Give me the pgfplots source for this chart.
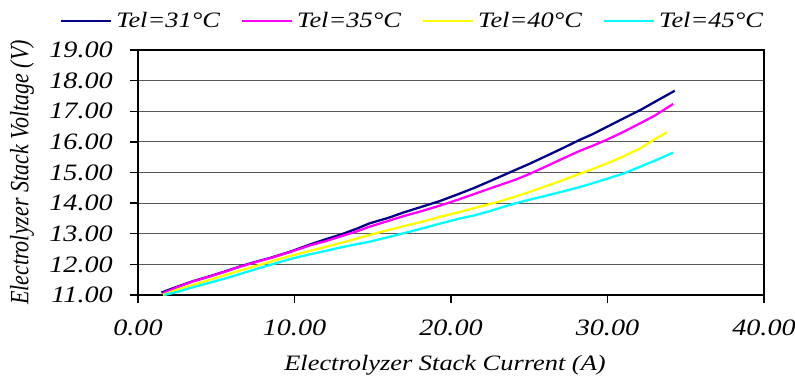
\documentclass[border=0pt]{standalone}
\usepackage{fontspec}
\setmainfont{Liberation Serif}[FakeStretch=1.2]
\newfontfamily\ylabfont{Liberation Serif}
\usepackage{pgfplots}
\pgfplotsset{compat=1.18}
\definecolor{navyx}{RGB}{0,0,128}
\definecolor{magx}{RGB}{255,0,255}
\definecolor{yelx}{RGB}{255,255,0}
\definecolor{cyax}{RGB}{0,255,255}
\begin{document}
\begin{tikzpicture}
\useasboundingbox (-138pt,-83pt) rectangle (657pt,295pt);
\begin{axis}[
  at={(0,0)}, anchor=south west,
  scale only axis, width=626pt, height=245pt,
  xmin=0, xmax=40, ymin=11, ymax=19,
  xtick={0,10,20,30,40}, ytick={11,12,...,19},
  /pgf/number format/assume math mode=true,
  /pgf/number format/.cd, fixed, fixed zerofill, precision=2, /pgfplots/.cd,
  tick pos=left, tick align=outside, major tick length=8pt,
  tick style={black, line width=1.3pt},
  axis line style={black, line width=1.3pt},
  ymajorgrids, major grid style={black!65, line width=1.2pt},
  ticklabel style={font=\fontsize{23.5}{24}\selectfont\itshape},
  xticklabel style={anchor=center, yshift=-25pt, inner sep=0pt},
  yticklabel style={anchor=east, xshift=-17pt, inner sep=0pt},
  xlabel={Electrolyzer Stack Current (A)},
  xlabel style={font=\fontsize{22}{24}\selectfont\itshape, at={(axis description cs:0.5,0)}, anchor=center, yshift=-70pt, xshift=-6pt},
  ylabel={\scalebox{1}[1.2]{\ylabfont\itshape Electrolyzer Stack Voltage (V)}},
  ylabel style={font=\fontsize{22}{24}\selectfont, at={(axis description cs:-0.185,0.5)}, anchor=center},
  legend columns=4,
  legend style={draw=none, fill=none, at={(axis description cs:0.44,1.118)}, anchor=center,
    font=\fontsize{22}{24}\selectfont\itshape, inner sep=0pt,
    /tikz/every even column/.append style={column sep=17pt},
    nodes={inner xsep=4pt, inner ysep=1pt}},
  legend image code/.code={\draw[#1] (0pt,0pt) -- (50pt,0pt);},
  every axis plot/.append style={line width=2.3pt},
]
\addplot[navyx] coordinates {
(1.5,11.08) (2.5,11.27) (3.5,11.45) (4.5,11.60) (5.5,11.76) (6.5,11.93) (7.5,12.08) (8.5,12.22)
(9.7,12.41) (11.0,12.65) (12.0,12.82) (13.0,12.98) (14.0,13.17) (14.8,13.34) (16.0,13.52) (17.0,13.70)
(18.0,13.86) (19.3,14.07) (20.5,14.30) (21.5,14.50) (22.5,14.72) (23.3,14.90) (24.1,15.08) (25.0,15.28)
(26.0,15.52) (27.0,15.76) (28.2,16.06) (29.0,16.24) (30.0,16.50) (31.0,16.76) (32.1,17.04) (33.0,17.30) (34.3,17.67)};
\addlegendentry{Tel=31°C}
\addplot[magx] coordinates {
(1.6,11.06) (2.5,11.25) (3.5,11.44) (4.5,11.59) (5.5,11.75) (6.5,11.92) (7.5,12.07) (8.5,12.21)
(9.7,12.40) (11.0,12.62) (12.0,12.76) (13.0,12.92) (14.0,13.08) (14.8,13.23) (16.0,13.42) (17.0,13.58)
(18.0,13.72) (19.3,13.92) (20.5,14.12) (21.5,14.30) (22.5,14.48) (23.3,14.62) (24.1,14.76) (25.0,14.95)
(26.0,15.18) (27.0,15.42) (28.2,15.70) (29.0,15.86) (30.0,16.08) (31.0,16.32) (32.1,16.61) (33.0,16.85) (34.2,17.24)};
\addlegendentry{Tel=35°C}
\addplot[yelx] coordinates {
(1.6,11.00) (2.5,11.17) (3.5,11.33) (4.5,11.48) (5.5,11.64) (6.5,11.79) (7.5,11.94) (8.5,12.09)
(9.7,12.27) (11.0,12.44) (12.0,12.57) (13.0,12.70) (14.0,12.84) (14.8,12.96) (16.0,13.12) (17.0,13.25)
(18.0,13.37) (19.3,13.55) (20.5,13.70) (21.5,13.84) (22.5,13.97) (23.3,14.08) (24.1,14.21) (25.0,14.36)
(26.0,14.54) (27.0,14.72) (28.2,14.95) (29.0,15.10) (30.0,15.30) (31.0,15.52) (32.1,15.79) (33.0,16.08) (33.8,16.31)};
\addlegendentry{Tel=40°C}
\addplot[cyax] coordinates {
(1.7,11.00) (2.5,11.10) (3.5,11.25) (4.5,11.39) (5.5,11.53) (6.5,11.68) (7.5,11.84) (8.5,11.99)
(9.7,12.17) (11.0,12.33) (12.0,12.44) (13.0,12.56) (14.0,12.66) (14.8,12.74) (16.0,12.89) (17.0,13.02)
(18.0,13.15) (19.3,13.33) (20.5,13.49) (21.5,13.60) (22.5,13.74) (23.3,13.87) (24.1,13.99) (25.0,14.11)
(26.0,14.23) (27.0,14.36) (28.2,14.52) (29.0,14.64) (30.0,14.80) (31.0,14.96) (32.1,15.19) (33.0,15.38) (34.2,15.65)};
\addlegendentry{Tel=45°C}
\end{axis}
\end{tikzpicture}
\end{document}
